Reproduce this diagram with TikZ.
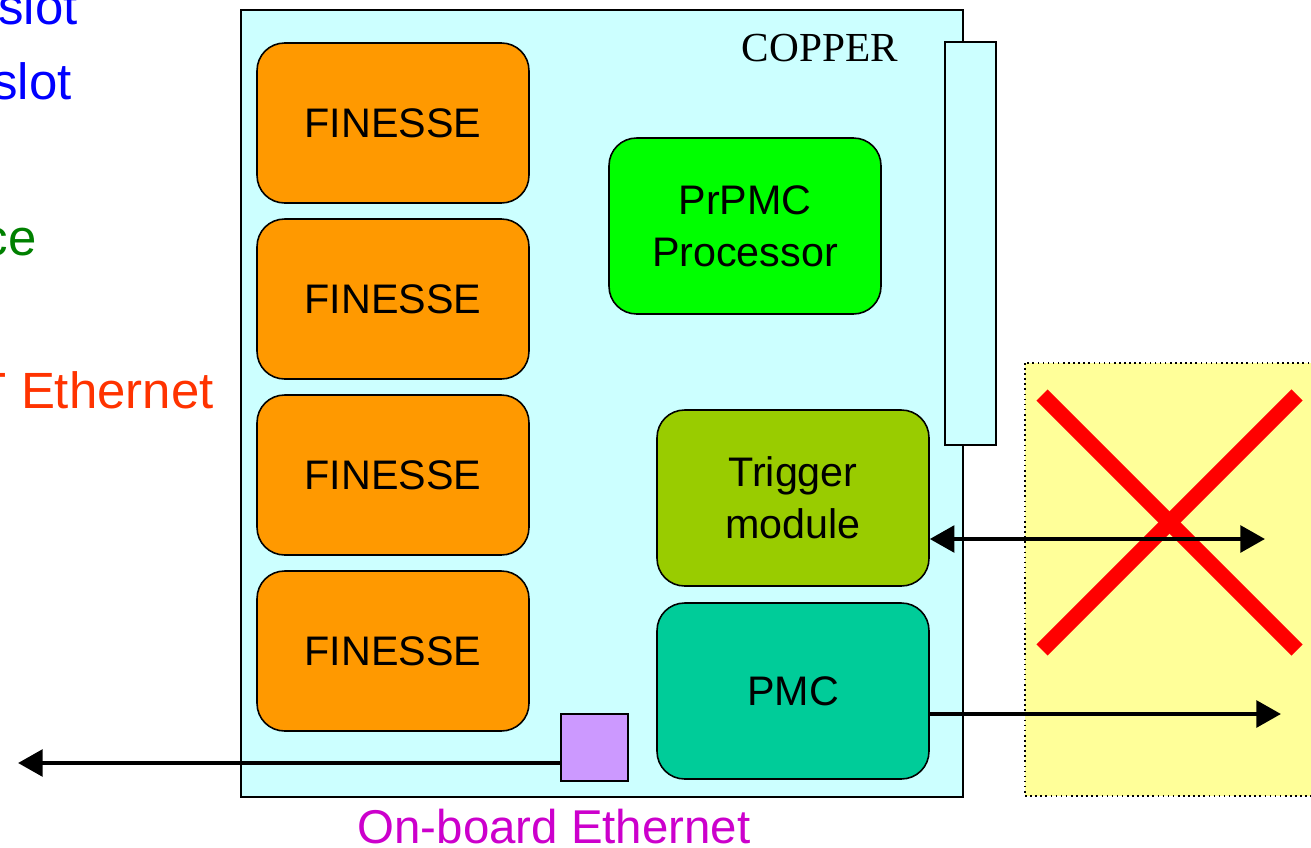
\documentclass[tikz,border=0pt]{standalone}
\usepackage{fontspec}
\setmainfont{Liberation Sans}
\newfontfamily\copperfont{Liberation Serif}
\usetikzlibrary{positioning,arrows.meta}
\definecolor{boardcyan}{HTML}{CCFFFF}
\definecolor{finorange}{HTML}{FF9900}
\definecolor{cpugreen}{HTML}{00FF00}
\definecolor{trigolive}{HTML}{99CC00}
\definecolor{pmcteal}{HTML}{00CC99}
\definecolor{ethpurple}{HTML}{CC99FF}
\definecolor{extyellow}{HTML}{FFFF99}
\definecolor{slotblue}{HTML}{0000FF}
\definecolor{ifgreen}{HTML}{008000}
\definecolor{gbered}{HTML}{FF3300}
\definecolor{ethmagenta}{HTML}{CC00CC}

\begin{document}
\begin{tikzpicture}[x=0.02cm,y=-0.02cm,
  module/.style={draw, line width=0.9pt, rounded corners=0.55cm,
    minimum width=5.44cm, minimum height=3.2cm, align=center,
    font=\fontsize{23.5}{29.5}\selectfont},
  link/.style={line width=2.6pt, -{Triangle[length=14pt,width=15pt]}},
  sidetext/.style={anchor=base east, inner sep=0pt, font=\fontsize{29}{35}\selectfont}]
  \useasboundingbox (0,0) rectangle (1311,848);
  % board
  \node[draw, line width=0.8pt, fill=boardcyan, minimum width=14.44cm,
    minimum height=15.74cm] (board) at (602,403.5) {};
  \node[anchor=base, inner sep=0pt, font=\copperfont\fontsize{23.5}{28}\selectfont]
    (copper) at (820,62) {COPPER};
  \node[draw, line width=0.8pt, fill=boardcyan, minimum width=1.02cm,
    minimum height=8.06cm] (bus) at (970.5,243.5) {};
  % external trigger side
  \draw[dotted, line width=0.9pt, fill=extyellow] (1025,363) rectangle (1320,796);
  % FINESSE slots
  \foreach \i/\y in {1/123,2/299,3/475,4/651}
    \node[module, fill=finorange] (fin\i) at (393,\y) {FINESSE};
  % modules
  \node[module, fill=cpugreen, minimum height=3.52cm] (cpu) at (745,226) {PrPMC\\Processor};
  \node[module, fill=trigolive, minimum height=3.52cm] (trig) at (793,498) {Trigger\\module};
  \node[module, fill=pmcteal, minimum height=3.52cm] (pmc) at (793,691) {PMC};
  \node[draw, line width=0.8pt, fill=ethpurple, minimum size=1.34cm] (eth) at (594.5,747.5) {};
  % cross
  \draw[red, line width=9pt] (1042,395) -- (1297,650);
  \draw[red, line width=9pt] (1297,395) -- (1042,650);
  % links
  \coordinate (trigR) at (1265,539);
  \coordinate (pmcR) at (1281,714);
  \coordinate (ethL) at (18,763);
  \draw[link, {Triangle[length=14pt,width=15pt]}-{Triangle[length=14pt,width=15pt]}]
    (trig.east |- trigR) -- (trigR);
  \draw[link] (pmc.east |- pmcR) -- (pmcR);
  \draw[link] (eth.west |- ethL) -- (ethL);
  % labels
  \node[sidetext, text=slotblue] (slotA) at (78,25) {slot};
  \node[sidetext, text=slotblue] (slotB) at (72,100) {slot};
  \node[sidetext, text=ifgreen] (iface) at (37,255) {ce};
  \node[sidetext, text=gbered] (gbe) at (214,408) {T Ethernet};
  \node[anchor=base, inner sep=0pt, text=ethmagenta, font=\fontsize{27}{32}\selectfont]
    (ethlabel) at (554,843) {On-board Ethernet};
\end{tikzpicture}
\end{document}
